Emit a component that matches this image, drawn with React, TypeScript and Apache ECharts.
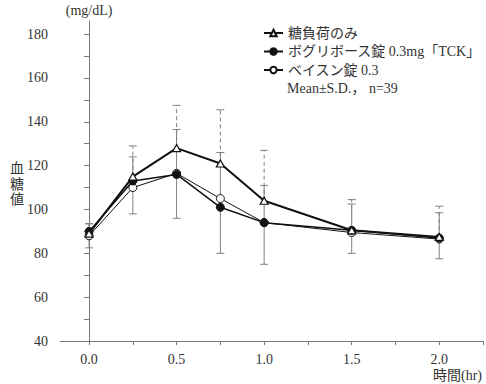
import React, { useEffect, useRef } from "react";
import * as echarts from "echarts";

const times = [0, 0.25, 0.5, 0.75, 1.0, 1.5, 2.0];
const glucoseOnly = [89, 115, 128, 121, 104, 90.5, 87.5];
const glucoseOnlyUpper = [93.5, 129, 147.5, 145.5, 127, 104.5, 101.5];
const voglibose = [90, 113, 116, 101, 94, 90.5, 87];
const vogliboseUpper = [93.5, 124, 136.5, 126, 111, 102.5, 98.5];
const basen = [88, 110, 116.5, 105, 94, 89.5, 86.5];
const basenLower = [82.5, 98, 96, 80, 75, 80, 77.5];

const seriesNames = ["糖負荷のみ", "ボグリボース錠 0.3mg「TCK」", "ベイスン錠 0.3"];
const xLabelValues = [0, 0.5, 1.0, 1.5, 2.0];
const xTickValues = [0, 0.25, 0.5, 0.75, 1.0, 1.25, 1.5, 1.75, 2.0, 2.25];
const yLabelValues = [40, 60, 80, 100, 120, 140, 160, 180];
const yTickValues = [40, 50, 60, 70, 80, 90, 100, 110, 120, 130, 140, 150, 160, 170, 180];

const FONT = "'Liberation Serif', 'Noto Sans CJK JP', serif";
const TEXT = "#333";
const AXIS = "#777";
const BAR = "#808080";

function errorBar(data: number[][], capAtHigh: boolean, dashed: boolean) {
  return {
    type: "custom",
    silent: true,
    z: 1,
    encode: { x: 0, y: [1, 2] },
    data,
    renderItem: (params: any, api: any) => {
      const x = api.value(0);
      const lo = api.coord([x, api.value(1)]);
      const hi = api.coord([x, api.value(2)]);
      const capY = capAtHigh ? hi[1] : lo[1];
      return {
        type: "group",
        children: [
          {
            type: "line",
            shape: { x1: lo[0], y1: lo[1], x2: hi[0], y2: hi[1] },
            style: { stroke: BAR, lineWidth: 1, lineDash: dashed ? [4, 3] : null },
          },
          {
            type: "line",
            shape: { x1: lo[0] - 4, y1: capY, x2: lo[0] + 4, y2: capY },
            style: { stroke: BAR, lineWidth: 1 },
          },
        ],
      };
    },
  };
}

export default function App() {
  const ref = useRef<HTMLDivElement>(null);
  useEffect(() => {
    if (!ref.current) return;
    const chart = echarts.init(ref.current, null, { renderer: "svg" });
    const pts = (vals: number[]) => times.map((t, i) => [t, vals[i]]);
    const option: any = {
      animation: false,
      grid: { left: 60, right: 3, top: 21, bottom: 43 },
      legend: {
        orient: "vertical",
        left: 258,
        top: 21,
        itemWidth: 19,
        itemHeight: 8,
        itemGap: 4.5,
        data: seriesNames,
        textStyle: { fontSize: 14, lineHeight: 14, color: TEXT, fontFamily: FONT },
      },
      xAxis: {
        type: "value",
        min: -0.166,
        max: 2.25,
        axisLine: { show: true, lineStyle: { color: AXIS } },
        axisTick: { show: true, length: 4, customValues: xTickValues, lineStyle: { color: AXIS } },
        axisLabel: {
          customValues: xLabelValues,
          formatter: (v: number) => v.toFixed(1),
          margin: 11,
          fontSize: 14,
          color: TEXT,
          fontFamily: FONT,
        },
        splitLine: { show: false },
      },
      yAxis: {
        type: "value",
        min: 40,
        max: 186,
        interval: 20,
        name: "(mg/dL)",
        nameLocation: "end",
        nameGap: 4,
        nameTextStyle: { fontSize: 14, color: TEXT, fontFamily: FONT, align: "center" },
        axisLine: { show: true, lineStyle: { color: AXIS } },
        axisTick: { show: true, length: 5, customValues: yTickValues, lineStyle: { color: AXIS } },
        axisLabel: { customValues: yLabelValues, margin: 12, fontSize: 14, color: TEXT, fontFamily: FONT },
        splitLine: { show: false },
      },
      graphic: [
        {
          type: "text",
          left: 10,
          top: 161,
          style: { text: "血\n糖\n値", fontSize: 14, lineHeight: 15.5, fill: TEXT, fontFamily: FONT },
        },
        {
          type: "text",
          right: 4,
          top: 368,
          style: { text: "時間(hr)", fontSize: 14, fill: TEXT, fontFamily: FONT },
        },
        {
          type: "text",
          left: 287,
          top: 81,
          style: { text: "Mean±S.D.， n=39", fontSize: 14, fill: TEXT, fontFamily: FONT },
        },
      ],
      series: [
        errorBar(times.map((t, i) => [t, glucoseOnly[i], glucoseOnlyUpper[i]]), true, true),
        errorBar(times.map((t, i) => [t, voglibose[i], vogliboseUpper[i]]), true, false),
        errorBar(times.map((t, i) => [t, basenLower[i], basen[i]]), false, false),
        {
          name: seriesNames[2],
          type: "line",
          z: 3,
          data: pts(basen),
          symbol: "circle",
          symbolSize: 8,
          lineStyle: { color: "#111", width: 1 },
          itemStyle: { color: "#fff", borderColor: "#111", borderWidth: 1 },
        },
        {
          name: seriesNames[1],
          type: "line",
          z: 4,
          data: pts(voglibose),
          symbol: "circle",
          symbolSize: 8,
          lineStyle: { color: "#111", width: 1.5 },
          itemStyle: { color: "#111", borderColor: "#111", borderWidth: 1 },
        },
        {
          name: seriesNames[0],
          type: "line",
          z: 5,
          data: pts(glucoseOnly),
          symbol: "triangle",
          symbolSize: [8, 7],
          lineStyle: { color: "#111", width: 2 },
          itemStyle: { color: "#fff", borderColor: "#111", borderWidth: 1.2 },
        },
      ],
    };
    chart.setOption(option);
    return () => chart.dispose();
  }, []);
  return <div ref={ref} style={{ width: 486, height: 384, position: "absolute", left: 0, top: 0 }} />;
}
